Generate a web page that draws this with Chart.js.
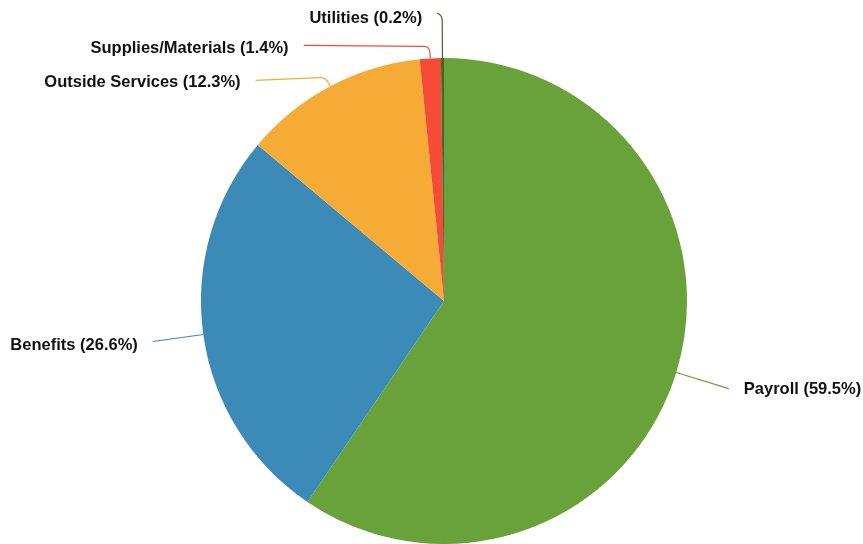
<!DOCTYPE html>
<html>
<head>
<meta charset="utf-8">
<title>Expenses</title>
<script src="https://cdn.jsdelivr.net/npm/chart.js@4/dist/chart.umd.min.js"></script>
<style>
  html, body { margin: 0; padding: 0; background: #fff; }
  #wrap { width: 863px; height: 544px; }
</style>
</head>
<body>
<div id="wrap"><canvas id="expensePie" width="863" height="544"></canvas></div>
<script>
const categories = ['Payroll', 'Benefits', 'Outside Services', 'Supplies/Materials', 'Utilities'];
const shares = [59.5, 26.6, 12.3, 1.4, 0.2];
const sliceColors = ['#69a13a', '#3b8ab7', '#f7ab37', '#f54c37', '#3c6a28'];

// leader line shape per slice: radial stub, horizontal run, vertical drift, text offset
const labelLayout = [
  { out: 55, run: 0,  lift: 0,  dy: 1 },
  { out: 51, run: 0,  lift: 0,  dy: 4 },
  { out: 10, run: 70, lift: 3,  dy: 2 },
  { out: 12, run: 126, lift: -1, dy: 3 },
  { out: 43, run: 5,  lift: -2, dy: 5 }
];

const leaderLabels = {
  id: 'leaderLabels',
  afterDraw(chart) {
    const ctx = chart.ctx;
    const arcs = chart.getDatasetMeta(0).data;
    ctx.save();
    ctx.font = 'bold 16.5px "Liberation Sans", Arial, sans-serif';
    ctx.textBaseline = 'middle';
    arcs.forEach((arc, i) => {
      const lay = labelLayout[i];
      const mid = (arc.startAngle + arc.endAngle) / 2;
      const cx = Math.cos(mid), sy = Math.sin(mid);
      const side = cx >= 0 ? 1 : -1;
      const x0 = arc.x + arc.outerRadius * cx;
      const y0 = arc.y + arc.outerRadius * sy;
      const x1 = x0 + lay.out * cx;
      const y1 = y0 + lay.out * sy;
      const x2 = x1 + side * lay.run;
      const y2 = y1 + lay.lift;

      ctx.strokeStyle = sliceColors[i];
      ctx.lineWidth = 1.2;
      ctx.beginPath();
      ctx.moveTo(x0, y0);
      if (lay.run > 0) {
        const k = Math.min(6, lay.out * 0.6);
        ctx.lineTo(x1 - k * cx, y1 - k * sy);
        ctx.quadraticCurveTo(x1, y1, x1 + side * Math.min(6, lay.run), y1 + lay.lift * Math.min(6, lay.run) / lay.run);
      }
      ctx.lineTo(x2, y2);
      ctx.stroke();

      const text = categories[i] + ' (' + shares[i].toFixed(1) + '%)';
      ctx.fillStyle = '#111';
      ctx.textAlign = side > 0 ? 'left' : 'right';
      ctx.fillText(text, x2 + side * 15, y2 + lay.dy);
    });
    ctx.restore();
  }
};

new Chart(document.getElementById('expensePie'), {
  type: 'pie',
  data: {
    labels: categories,
    datasets: [{
      data: shares,
      backgroundColor: sliceColors,
      borderWidth: 0
    }]
  },
  options: {
    responsive: false,
    animation: false,
    layout: { padding: { top: 58, bottom: 0, left: 25, right: 0 } },
    plugins: {
      legend: { display: false },
      tooltip: { enabled: false }
    }
  },
  plugins: [leaderLabels]
});
</script>
</body>
</html>
